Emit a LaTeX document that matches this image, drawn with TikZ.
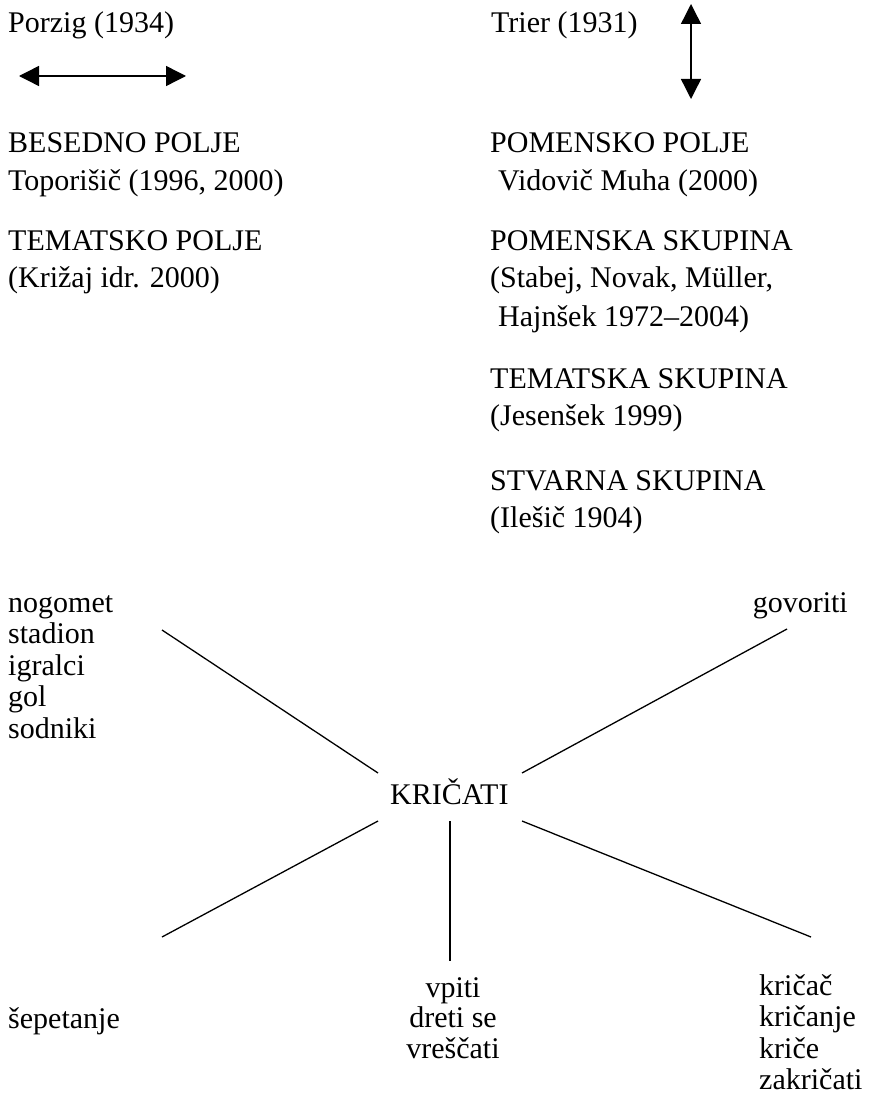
\documentclass[tikz,border=0pt]{standalone}
\usepackage{fontspec}
\setmainfont{Liberation Serif}
\usetikzlibrary{arrows.meta,positioning,calc}

\begin{document}
\begin{tikzpicture}[
    x=1pt, y=-1pt,
    word/.style={anchor=base west, inner sep=0pt, font=\fontsize{30}{36}\selectfont},
    link/.style={draw, line width=1.3pt},
    both/.style={draw, line width=1.4pt, {Triangle[length=20pt, width=20pt]}-{Triangle[length=20pt, width=20pt]}}
]
    \useasboundingbox (0,0) rectangle (878,1094);

    % authors and arrows
    \node [word] (porzig) at (8,33) {Porzig (1934)};
    \node [word] (trier) at (491,33) {Trier (1931)};
    \coordinate (hleft) at (19,76);
    \coordinate (hright) at (186,76);
    \coordinate (vtop) at (691,4);
    \coordinate (vbottom) at (691,99);
    \draw [both] (hleft) -- (hright);
    \draw [both] (vtop) -- (vbottom);

    % left column
    \node [word] (besedno) at (8,153) {BESEDNO POLJE};
    \node [word] (toporisic) at (8,190) {Toporišič (1996, 2000)};
    \node [word] (tematsko) at (8,250) {TEMATSKO POLJE};
    \node [word] (krizaj) at (8,287) {(Križaj idr. 2000)};

    % right column
    \node [word] (pomensko) at (490,153) {POMENSKO POLJE};
    \node [word] (vidovic) at (498,190) {Vidovič Muha (2000)};
    \node [word] (pomenska) at (490,250) {POMENSKA SKUPINA};
    \node [word] (stabej) at (490,287) {(Stabej, Novak, Müller,};
    \node [word] (hajnsek) at (498,326) {Hajnšek 1972–2004)};
    \node [word] (tematska) at (490,388) {TEMATSKA SKUPINA};
    \node [word] (jesensek) at (490,425) {(Jesenšek 1999)};
    \node [word] (stvarna) at (490,490) {STVARNA SKUPINA};
    \node [word] (ilesic) at (490,527) {(Ilešič 1904)};

    % word field
    \node [word] (kricati) at (390,804) {KRIČATI};
    \foreach \w [count=\i] in {nogomet, stadion, igralci, gol, sodniki}
        \node [word] (field\i) at (8,{580.5+31.5*\i}) {\w};
    \node [word, anchor=base east] (govoriti) at (848,612) {govoriti};
    \node [word] (sepetanje) at (8,1028) {šepetanje};
    \foreach \w/\y [count=\i] in {vpiti/997, dreti se/1027, vreščati/1058}
        \node [word, anchor=base] (syn\i) at (453,\y) {\w};
    \foreach \w [count=\i] in {kričač, kričanje, kriče, zakričati}
        \node [word] (deriv\i) at (759,{963.5+31.5*\i}) {\w};

    % connectors
    \coordinate (kul) at ($(kricati.base west)+(-12,-31)$);
    \coordinate (kur) at ($(kricati.base west)+(132,-31)$);
    \coordinate (kll) at ($(kricati.base west)+(-12,17)$);
    \coordinate (kmid) at ($(kricati.base west)+(60,17)$);
    \coordinate (klr) at ($(kricati.base west)+(132,17)$);
    \coordinate (ful) at (162,630);
    \coordinate (fur) at (787,629);
    \coordinate (fll) at (162,937);
    \coordinate (fmid) at (450,961);
    \coordinate (flr) at (811,937);
    \foreach \a/\b in {kul/ful, kur/fur, kll/fll, kmid/fmid, klr/flr}
        \draw [link] (\a) -- (\b);
\end{tikzpicture}
\end{document}
